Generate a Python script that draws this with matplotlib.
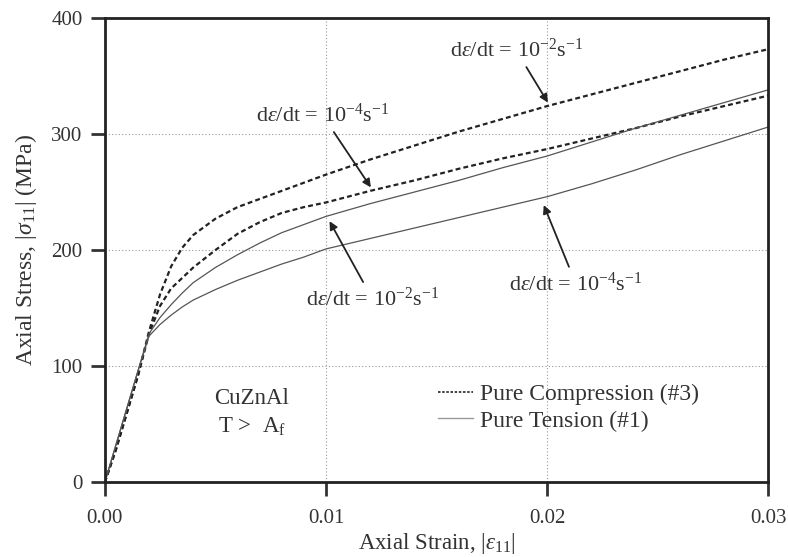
import matplotlib
matplotlib.use("Agg")
import matplotlib.pyplot as plt

plt.rcParams['font.family'] = ['Liberation Serif', 'DejaVu Serif']
plt.rcParams['mathtext.fontset'] = 'custom'
plt.rcParams['mathtext.rm'] = 'Liberation Serif'
plt.rcParams['mathtext.it'] = 'Liberation Serif:italic'

# strain points and stress readings (MPa)
strain = [0, 0.0005, 0.001, 0.0015, 0.002, 0.0025, 0.003, 0.0035, 0.004, 0.005,
          0.006, 0.007, 0.008, 0.009, 0.01, 0.012, 0.014, 0.016, 0.018, 0.02,
          0.022, 0.024, 0.026, 0.028, 0.03]
comp_fast = [0, 28, 60, 92, 130, 162, 186, 202, 213, 227, 237, 244, 251, 258, 265,
             278, 290, 302, 313, 324, 334, 344, 354, 364, 373]
comp_slow = [0, 28, 60, 92, 128, 152, 167, 176, 185, 200, 214, 224, 232, 237, 241,
             251, 260, 270, 279, 287, 296, 305, 315, 324, 333]
tens_fast = [0, 32, 64, 96, 128, 142, 153, 163, 172, 185, 196, 206, 215, 222, 229,
             240, 250, 260, 271, 281, 293, 305, 316, 327, 338]
tens_slow = [0, 32, 64, 96, 126, 136, 144, 151, 157, 166, 174, 181, 188, 194, 201,
             210, 219, 228, 237, 246, 257, 269, 282, 294, 306]

xticks = [0.0, 0.01, 0.02, 0.03]
xticklabels = ['0.00', '0.01', '0.02', '0.03']
yticks = [0, 100, 200, 300, 400]

rate_hi = r'd$\varepsilon$/dt = 10$^{-2}$s$^{-1}$'
rate_lo = r'd$\varepsilon$/dt = 10$^{-4}$s$^{-1}$'
ink = '#333333'

fig = plt.figure(figsize=(7.88, 5.57), dpi=100)
ax = fig.add_axes([0.133, 0.134, 0.842, 0.834])

dash = (0, (2.2, 1.4))
ax.plot(strain, comp_fast, color='#222222', lw=1.6, linestyle=dash)
ax.plot(strain, comp_slow, color='#222222', lw=1.6, linestyle=dash)
ax.plot(strain, tens_fast, color='#555555', lw=0.9)
ax.plot(strain, tens_slow, color='#555555', lw=0.9)

ax.set_xlim(0, 0.03)
ax.set_ylim(0, 400)
ax.set_xticks(xticks)
ax.set_xticklabels(xticklabels)
ax.set_yticks(yticks)
ax.tick_params(direction='out', length=10, width=2, labelsize=15, colors=ink)
ax.tick_params(axis='x', pad=9)
ax.tick_params(axis='y', pad=6)
for s in ax.spines.values():
    s.set_linewidth(2)
    s.set_color('#222222')

for v in [0.01, 0.02]:
    ax.axvline(v, color='#999999', lw=0.8, linestyle=(0, (1, 2)), zorder=0)
for v in [100, 200, 300]:
    ax.axhline(v, color='#999999', lw=0.8, linestyle=(0, (1, 2)), zorder=0)

ax.set_xlabel(r'Axial Strain, |$\varepsilon_{11}$|', fontsize=16.5, color=ink, labelpad=2)
ax.set_ylabel(r'Axial Stress, |$\sigma_{11}$| (MPa)', fontsize=17, color=ink, labelpad=9)

arrow = dict(arrowstyle='-|>', color='#222222', lw=1.3, mutation_scale=12)
fs = 16
ax.annotate(rate_hi, xy=(0.0201, 325), xytext=(0.0186, 372), fontsize=fs, color=ink,
            ha='center', va='center', arrowprops=arrow)
ax.annotate(rate_lo, xy=(0.0121, 252), xytext=(0.00985, 316), fontsize=fs, color=ink,
            ha='center', va='center', arrowprops=arrow)
ax.annotate(rate_hi, xy=(0.0101, 227), xytext=(0.0121, 158), fontsize=fs, color=ink,
            ha='center', va='center', arrowprops=arrow)
ax.annotate(rate_lo, xy=(0.0198, 241), xytext=(0.0213, 171), fontsize=fs, color=ink,
            ha='center', va='center', arrowprops=arrow)

ax.text(0.00665, 72, 'CuZnAl', fontsize=16.5, ha='center', va='center', color=ink)
ax.text(0.00665, 48, r'T >  A$_{\mathrm{f}}$', fontsize=16.5, ha='center', va='center', color=ink)

h1, = ax.plot([], [], color='#222222', lw=1.2, linestyle=(0, (1.5, 1)))
h2, = ax.plot([], [], color='#999999', lw=1.0)
leg = ax.legend([h1, h2], ['Pure Compression (#3)', 'Pure Tension (#1)'],
                loc='upper left', bbox_to_anchor=(0.502, 0.212), frameon=False,
                fontsize=17, handlelength=1.5, handletextpad=0.3, labelspacing=0.2,
                borderpad=0, borderaxespad=0)
for t in leg.get_texts():
    t.set_color(ink)

fig.savefig('out.png', dpi=100)
